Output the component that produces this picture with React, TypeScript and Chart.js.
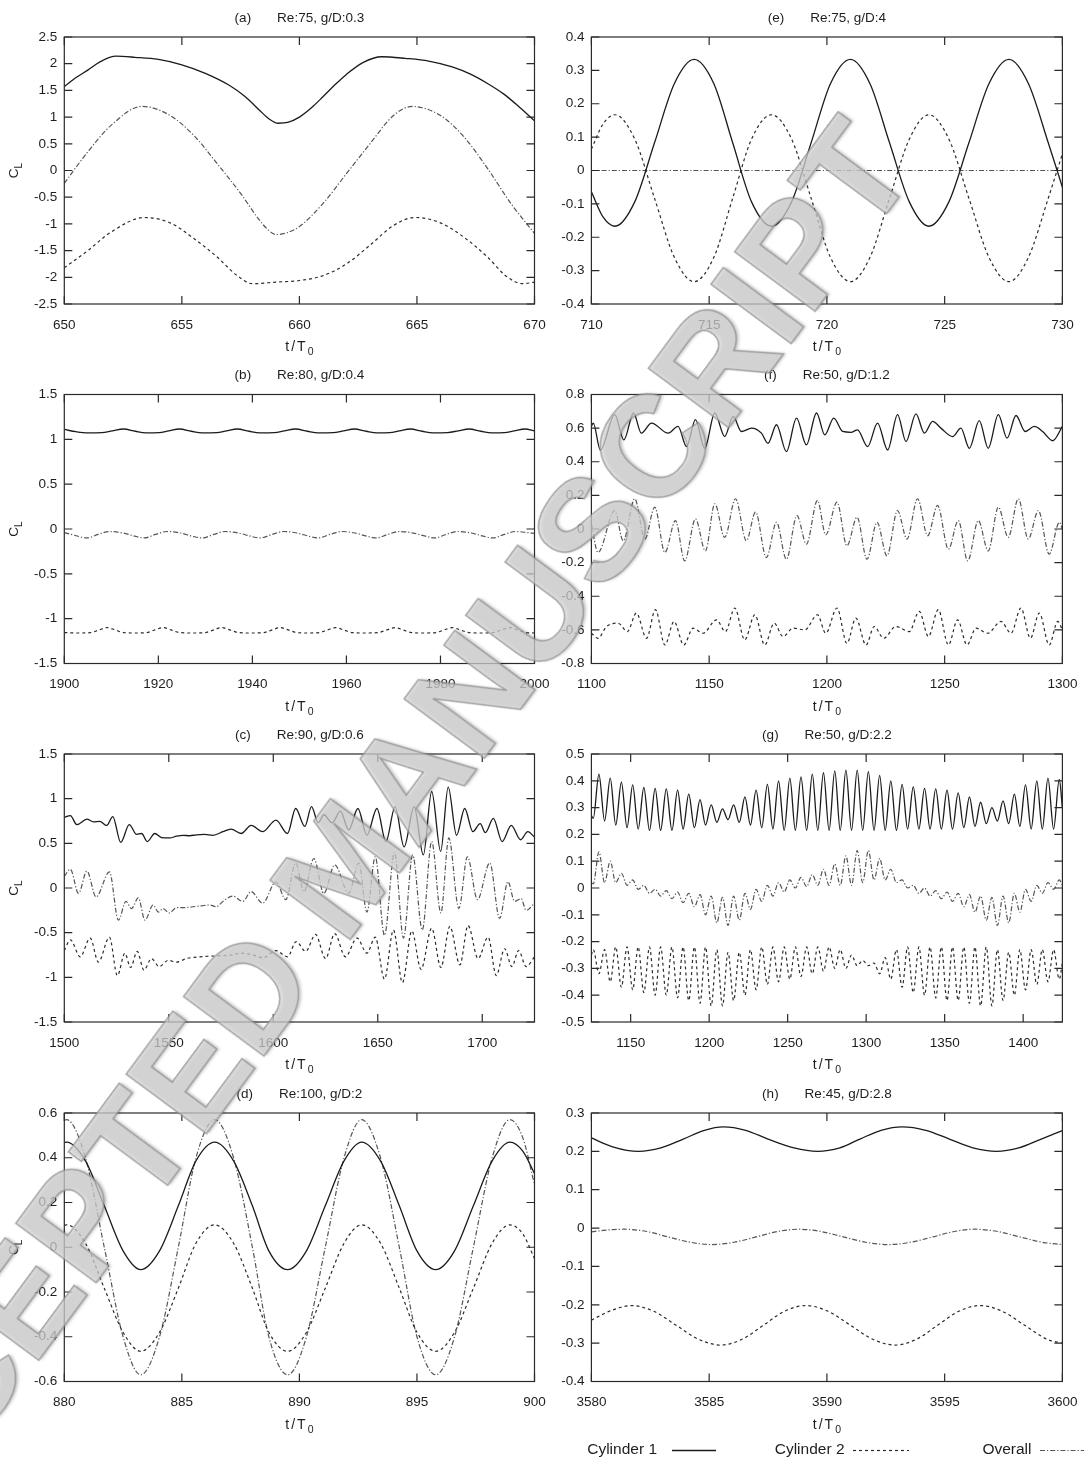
import React, { useEffect, useRef } from "react";
import { Chart, registerables } from "chart.js";
Chart.register(...registerables);

// ---------------- DATA ----------------
// (a) Re:75, g/D:0.3
const aT1 = [650, 650.5, 651, 651.5, 652.2, 653, 654, 655, 656, 657, 657.7, 658.3, 658.7, 659.1, 659.5, 660, 660.5, 661, 661.5, 662, 662.7, 663.5, 664.5, 665.5, 666.5, 667.3, 668, 668.7, 669.4, 670];
const aCyl1 = [1.57, 1.74, 1.88, 2.03, 2.14, 2.12, 2.08, 1.98, 1.82, 1.6, 1.38, 1.13, 0.97, 0.885, 0.9, 1.0, 1.17, 1.38, 1.6, 1.8, 2.02, 2.13, 2.1, 2.05, 1.94, 1.8, 1.63, 1.43, 1.17, 0.93];
const aT2 = [650, 651, 652, 653.4, 654.5, 655.5, 656.5, 657.3, 658, 659, 660, 661, 662, 663, 664, 664.9, 666, 667, 668, 668.8, 669.5, 670];
const aCyl2 = [-1.82, -1.5, -1.15, -0.88, -0.98, -1.27, -1.62, -1.95, -2.12, -2.09, -2.06, -1.97, -1.75, -1.4, -1.03, -0.88, -0.98, -1.25, -1.62, -1.98, -2.12, -2.09];
const aT0 = [650, 651, 652, 653.3, 654.5, 655.5, 656.5, 657.5, 658.3, 658.6, 659, 659.5, 660, 661, 662, 663, 664, 664.8, 666, 667, 668, 669, 670];
const aOverall = [-0.24, 0.35, 0.85, 1.2, 1.03, 0.66, 0.13, -0.43, -0.93, -1.08, -1.2, -1.16, -1.05, -0.62, -0.06, 0.5, 1.03, 1.2, 1.03, 0.63, 0.04, -0.62, -1.18];

// (b) Re:80, g/D:0.4
const bT1 = [1900, 1902.5, 1905, 1908, 1910.2, 1912.6, 1915.1, 1917.3, 1920.2, 1922.2, 1924.5, 1927, 1929.3, 1932.4, 1934.5, 1936.8, 1939.3, 1941.6, 1944.7, 1946.8, 1949.2, 1951.7, 1954, 1957.2, 1959.4, 1961.7, 1964.2, 1966.5, 1969.2, 1971.3, 1973.6, 1976.1, 1978.4, 1981.5, 1983.8, 1986.1, 1988.6, 1990.9, 1993.6, 1995.7, 1998, 2000];
const bCyl1 = [1.11, 1.085, 1.072, 1.075, 1.095, 1.115, 1.09, 1.072, 1.075, 1.095, 1.115, 1.09, 1.072, 1.075, 1.095, 1.115, 1.09, 1.072, 1.075, 1.095, 1.115, 1.09, 1.072, 1.075, 1.095, 1.115, 1.09, 1.072, 1.075, 1.095, 1.115, 1.09, 1.072, 1.075, 1.095, 1.115, 1.09, 1.072, 1.075, 1.095, 1.115, 1.095];
const bT0 = [1900, 1902.5, 1904.8, 1907.2, 1909.6, 1912.5, 1915, 1917, 1919.4, 1921.8, 1924.7, 1927.2, 1929.3, 1931.8, 1934.2, 1937.1, 1939.6, 1941.7, 1944.2, 1946.6, 1949.5, 1952, 1954, 1956.5, 1959, 1961.8, 1964.3, 1966.3, 1968.8, 1971.3, 1974.2, 1976.8, 1978.8, 1981.2, 1983.7, 1986.6, 1989.1, 1991.2, 1993.6, 1996, 1998.5, 2000];
const bOverall = [-0.04, -0.075, -0.1, -0.06, -0.028, -0.045, -0.08, -0.1, -0.06, -0.028, -0.045, -0.08, -0.1, -0.06, -0.028, -0.045, -0.08, -0.1, -0.06, -0.028, -0.045, -0.08, -0.1, -0.06, -0.028, -0.045, -0.08, -0.1, -0.06, -0.028, -0.045, -0.08, -0.1, -0.06, -0.028, -0.045, -0.08, -0.1, -0.06, -0.028, -0.04, -0.05];
const bT2 = [1900, 1903, 1905.6, 1907.4, 1909.1, 1910.8, 1912.6, 1915.2, 1917.5, 1919.3, 1921, 1922.7, 1924.5, 1927.3, 1930, 1931.8, 1933.5, 1935.2, 1937, 1939.7, 1942.4, 1944.2, 1945.9, 1947.6, 1949.4, 1951.8, 1954.2, 1956, 1957.7, 1959.4, 1961.2, 1964, 1966.8, 1968.6, 1970.3, 1972, 1973.8, 1976.4, 1979, 1980.8, 1982.5, 1984.2, 1986, 1988.6, 1991.2, 1993, 1994.7, 1996.4, 1998.2, 2000];
const bCyl2 = [-1.155, -1.16, -1.155, -1.125, -1.1, -1.125, -1.155, -1.16, -1.155, -1.125, -1.1, -1.125, -1.155, -1.16, -1.155, -1.125, -1.1, -1.125, -1.155, -1.16, -1.155, -1.125, -1.1, -1.125, -1.155, -1.16, -1.155, -1.125, -1.1, -1.125, -1.155, -1.16, -1.155, -1.125, -1.1, -1.125, -1.155, -1.16, -1.155, -1.125, -1.1, -1.125, -1.155, -1.16, -1.155, -1.125, -1.1, -1.125, -1.155, -1.16];

// (c) Re:90, g/D:0.6
const cT1 = [1500, 1502.9, 1506, 1510.8, 1514, 1517, 1520.3, 1523.2, 1527, 1531.1, 1534.6, 1537, 1539.7, 1543.3, 1546.5, 1550.5, 1553.7, 1556.8, 1560, 1563.2, 1567.1, 1571.1, 1575.9, 1579.8, 1584.6, 1589.4, 1594.9, 1601.3, 1606.8, 1610.7, 1615.1, 1618.3, 1621.5, 1624.2, 1628.2, 1632.1, 1636.1, 1640.5, 1644.8, 1649.6, 1653.9, 1658.3, 1662.6, 1667.4, 1671.8, 1675.8, 1680.1, 1683.7, 1687.7, 1691.6, 1695.5, 1699, 1701.5, 1705.3, 1709.5, 1713.9, 1718.3, 1721.8, 1725];
const cCyl1 = [0.79, 0.81, 0.71, 0.77, 0.74, 0.745, 0.7, 0.8, 0.51, 0.71, 0.6, 0.61, 0.52, 0.61, 0.565, 0.56, 0.58, 0.59, 0.585, 0.595, 0.6, 0.59, 0.63, 0.66, 0.61, 0.7, 0.63, 0.76, 0.61, 0.89, 0.69, 0.91, 0.73, 0.82, 0.73, 0.86, 0.65, 0.89, 0.59, 0.89, 0.52, 0.91, 0.46, 0.91, 0.37, 1.08, 0.41, 1.13, 0.59, 0.89, 0.63, 0.72, 0.62, 0.78, 0.52, 0.7, 0.54, 0.63, 0.57];
const cT0 = [1500, 1502.9, 1506.8, 1510.8, 1515.2, 1521.6, 1525.9, 1529.5, 1532.2, 1535.4, 1538.6, 1542.5, 1545, 1547.3, 1550.2, 1553.7, 1557.6, 1561.6, 1565.6, 1569.5, 1572.7, 1575.9, 1580.6, 1585.4, 1589.4, 1594.9, 1601.3, 1606, 1610.7, 1614.7, 1619.4, 1624.2, 1629.4, 1636.1, 1640.9, 1644.8, 1648.8, 1653.2, 1658, 1662.3, 1666.7, 1671.3, 1675.8, 1680.2, 1684, 1688.8, 1692.9, 1697.7, 1703.6, 1708.3, 1712.3, 1715.5, 1718.6, 1721, 1725];
const cOverall = [0.13, 0.21, -0.06, 0.19, -0.1, 0.18, -0.36, -0.15, -0.23, -0.11, -0.36, -0.19, -0.27, -0.23, -0.28, -0.22, -0.22, -0.21, -0.2, -0.19, -0.21, -0.15, -0.09, -0.15, -0.04, -0.17, 0.07, -0.13, 0.28, -0.04, 0.33, -0.06, 0.26, -0.06, 0.28, -0.27, 0.35, -0.53, 0.4, -0.56, 0.37, -0.47, 0.52, -0.28, 0.56, -0.23, 0.35, -0.13, 0.28, -0.34, 0.07, -0.15, -0.12, -0.25, -0.17];
const cT2 = [1500, 1502.9, 1507.6, 1512.4, 1516.3, 1521.6, 1525.4, 1529, 1531.7, 1534.9, 1538.1, 1541.7, 1545.4, 1549.7, 1553.7, 1558.4, 1564.8, 1572.7, 1579.8, 1584.6, 1590.2, 1595.2, 1601.3, 1606.8, 1611, 1615.5, 1620.2, 1625, 1629.4, 1634.5, 1640.1, 1644.8, 1648.8, 1653.2, 1657.5, 1661.8, 1666.3, 1670.7, 1675.8, 1680.2, 1684.5, 1689.3, 1693.2, 1698, 1702.8, 1706.7, 1710.7, 1714.2, 1717.4, 1721, 1725];
const cCyl2 = [-0.7, -0.58, -0.77, -0.56, -0.83, -0.55, -0.98, -0.73, -0.89, -0.71, -0.92, -0.79, -0.88, -0.81, -0.83, -0.79, -0.77, -0.76, -0.75, -0.73, -0.75, -0.78, -0.7, -0.77, -0.6, -0.71, -0.52, -0.79, -0.51, -0.77, -0.56, -0.73, -0.55, -1.02, -0.47, -1.06, -0.48, -0.91, -0.45, -0.89, -0.43, -0.86, -0.42, -0.79, -0.55, -0.98, -0.68, -0.88, -0.7, -0.88, -0.77];

// (d) Re:100, g/D:2
const dT = [880, 880.1, 880.9, 881.7, 882.5, 883.25, 884.05, 884.85, 885.6, 886.4, 887.2, 888.0, 888.7, 889.5, 890.3, 891.1, 891.9, 892.65, 893.45, 894.25, 895.0, 895.8, 896.6, 897.4, 898.2, 898.95, 899.5, 900];
const dCyl1 = [0.468, 0.47, 0.386, 0.185, -0.016, -0.1, -0.016, 0.185, 0.386, 0.47, 0.386, 0.185, -0.016, -0.1, -0.016, 0.185, 0.386, 0.47, 0.386, 0.185, -0.016, -0.1, -0.016, 0.185, 0.386, 0.47, 0.43, 0.33];
const dCyl2 = [0.098, 0.1, 0.018, -0.183, -0.38, -0.465, -0.38, -0.183, 0.018, 0.1, 0.018, -0.183, -0.38, -0.465, -0.38, -0.183, 0.018, 0.1, 0.018, -0.183, -0.38, -0.465, -0.38, -0.183, 0.018, 0.1, 0.06, -0.05];
const dOverall = [0.568, 0.57, 0.4, 0.0, -0.4, -0.57, -0.4, 0.0, 0.4, 0.57, 0.4, 0.0, -0.4, -0.57, -0.4, 0.0, 0.4, 0.57, 0.4, 0.0, -0.4, -0.57, -0.4, 0.0, 0.4, 0.57, 0.49, 0.28];

// (e) Re:75, g/D:4
const eT = [710, 710.5, 711.0, 711.84, 712.68, 713.52, 714.36, 715.2, 716.0, 716.8, 717.65, 718.5, 719.33, 720.15, 721.0, 721.83, 722.66, 723.5, 724.33, 725.18, 726.03, 726.88, 727.73, 728.56, 729.4, 730];
const eCyl1 = [-0.064, -0.14, -0.167, -0.094, 0.083, 0.26, 0.333, 0.26, 0.083, -0.094, -0.167, -0.094, 0.083, 0.26, 0.333, 0.26, 0.083, -0.094, -0.167, -0.094, 0.083, 0.26, 0.333, 0.26, 0.083, -0.05];
const eCyl2 = [0.064, 0.14, 0.167, 0.094, -0.083, -0.26, -0.333, -0.26, -0.083, 0.094, 0.167, 0.094, -0.083, -0.26, -0.333, -0.26, -0.083, 0.094, 0.167, 0.094, -0.083, -0.26, -0.333, -0.26, -0.083, 0.05];
const eT0 = [710, 715, 720, 725, 730];
const eOverall = [0, 0, 0, 0, 0];

// (f) Re:50, g/D:1.2
const fT1 = [1100, 1100.8, 1103.8, 1109.9, 1113.8, 1117.9, 1121.2, 1125.5, 1132.6, 1136.8, 1140.4, 1144.2, 1148.1, 1152.4, 1156.6, 1160.2, 1163.7, 1168, 1172.2, 1175, 1178.6, 1182.8, 1187.1, 1191.3, 1195.6, 1199.1, 1202.9, 1206.7, 1210.2, 1213, 1217.3, 1221.5, 1225.8, 1230, 1233.6, 1237.8, 1241.4, 1244.9, 1248.4, 1253.4, 1256.9, 1260.5, 1264.7, 1268.5, 1272.8, 1276.5, 1280.3, 1284.2, 1288.1, 1291.6, 1295.9, 1300];
const fCyl1 = [0.61, 0.63, 0.47, 0.68, 0.53, 0.69, 0.57, 0.63, 0.57, 0.61, 0.49, 0.65, 0.48, 0.69, 0.55, 0.67, 0.58, 0.6, 0.57, 0.51, 0.62, 0.46, 0.66, 0.5, 0.69, 0.56, 0.66, 0.58, 0.575, 0.59, 0.49, 0.63, 0.47, 0.68, 0.52, 0.685, 0.57, 0.64, 0.6, 0.55, 0.6, 0.48, 0.645, 0.48, 0.68, 0.54, 0.675, 0.58, 0.61, 0.58, 0.525, 0.61];
const fT0 = [1100, 1102.8, 1109.9, 1113.5, 1118.4, 1122.7, 1126.9, 1131.2, 1135.7, 1139.6, 1144.2, 1148.4, 1152.4, 1156.6, 1161.2, 1165.8, 1169.7, 1174.3, 1178.6, 1182.8, 1187.3, 1191.3, 1196, 1199.5, 1204.3, 1208.5, 1212.8, 1217, 1221.3, 1225.5, 1230, 1234, 1238.5, 1242.8, 1247, 1251.6, 1255.8, 1259.8, 1264.3, 1268.5, 1272.8, 1277, 1281.3, 1285.5, 1289.8, 1294.4, 1298.7, 1300];
const fOverall = [0.03, -0.14, 0.11, -0.07, 0.18, -0.06, 0.13, -0.14, 0.05, -0.19, 0.06, -0.13, 0.15, -0.05, 0.18, -0.07, 0.1, -0.17, 0.04, -0.18, 0.08, -0.09, 0.17, -0.035, 0.16, -0.1, 0.07, -0.18, 0.04, -0.16, 0.11, -0.06, 0.18, -0.04, 0.14, -0.12, 0.05, -0.19, 0.05, -0.13, 0.13, -0.05, 0.18, -0.06, 0.11, -0.15, 0.04, 0.0];
const fT2 = [1100, 1102.8, 1106.4, 1111.3, 1115.3, 1119.1, 1123.4, 1127.2, 1131.2, 1135.1, 1139.2, 1143.2, 1147.4, 1153.1, 1156.9, 1160.9, 1165.1, 1169.4, 1173.6, 1177.6, 1181.4, 1185.6, 1190.6, 1196, 1199.5, 1204.3, 1208.5, 1212.3, 1216.6, 1220.1, 1224.1, 1229.3, 1235, 1239.2, 1243.1, 1247.3, 1251.6, 1255.5, 1259.5, 1263.3, 1268.3, 1273.9, 1278.2, 1282.4, 1286.4, 1290.2, 1294.4, 1298, 1300];
const fCyl2 = [-0.62, -0.65, -0.58, -0.56, -0.61, -0.5, -0.65, -0.48, -0.69, -0.55, -0.69, -0.59, -0.62, -0.54, -0.61, -0.47, -0.66, -0.51, -0.69, -0.56, -0.64, -0.59, -0.6, -0.51, -0.62, -0.47, -0.68, -0.53, -0.69, -0.58, -0.65, -0.58, -0.61, -0.49, -0.64, -0.48, -0.69, -0.54, -0.69, -0.59, -0.62, -0.55, -0.62, -0.47, -0.65, -0.5, -0.69, -0.55, -0.6];

// (g) Re:50, g/D:2.2  (times of successive crests / troughs)
const gT = [1125, 1126.2,
  1129.8, 1133.4, 1137.0, 1140.5, 1144.1, 1147.7, 1151.3, 1154.8, 1158.4, 1162.0,
  1165.6, 1169.1, 1172.7, 1176.3, 1179.9, 1183.4, 1187.0, 1190.6, 1194.2, 1197.7,
  1201.3, 1204.9, 1208.5, 1212.0, 1215.6, 1219.2, 1222.8, 1226.3, 1229.9, 1233.5,
  1237.1, 1240.6, 1244.2, 1247.8, 1251.4, 1254.9, 1258.5, 1262.1, 1265.7, 1269.2,
  1272.8, 1276.4, 1280.0, 1283.5, 1287.1, 1290.7, 1294.3, 1297.8, 1301.4, 1305.0,
  1308.6, 1312.1, 1315.7, 1319.3, 1322.9, 1326.4, 1330.0, 1333.6, 1337.2, 1340.7,
  1344.3, 1347.9, 1351.5, 1355.0, 1358.6, 1362.2, 1365.8, 1369.3, 1372.9, 1376.5,
  1380.1, 1383.6, 1387.2, 1390.8, 1394.4, 1397.9, 1401.5, 1405.1, 1408.7, 1412.2,
  1415.8, 1419.4, 1423.0, 1425];
const gCyl1 = [0.27, 0.26,
  0.425, 0.25, 0.41, 0.235, 0.395, 0.225, 0.385, 0.22, 0.375, 0.215,
  0.372, 0.215, 0.37, 0.215, 0.365, 0.22, 0.35, 0.225, 0.33, 0.235,
  0.31, 0.245, 0.295, 0.255, 0.31, 0.245, 0.34, 0.235, 0.365, 0.225,
  0.387, 0.22, 0.4, 0.215, 0.41, 0.215, 0.415, 0.215, 0.425, 0.215,
  0.43, 0.215, 0.437, 0.215, 0.44, 0.215, 0.44, 0.215, 0.434, 0.215,
  0.42, 0.215, 0.4, 0.215, 0.387, 0.22, 0.377, 0.22, 0.372, 0.22,
  0.37, 0.22, 0.365, 0.22, 0.355, 0.225, 0.34, 0.23, 0.32, 0.24,
  0.3, 0.25, 0.325, 0.24, 0.35, 0.23, 0.385, 0.22, 0.4, 0.22,
  0.41, 0.22, 0.405, 0.3];
const gOverall = [0.02, 0.015,
  0.135, 0.02, 0.1, 0.02, 0.055, 0.01, 0.03, -0.005, 0.01, -0.02,
  -0.005, -0.03, -0.01, -0.04, -0.015, -0.055, -0.02, -0.07, -0.025, -0.1,
  -0.03, -0.13, -0.035, -0.14, -0.03, -0.12, -0.02, -0.08, -0.005, -0.05,
  0.01, -0.03, 0.02, -0.015, 0.03, 0.0, 0.04, 0.005, 0.05, 0.01,
  0.07, 0.01, 0.09, 0.01, 0.12, 0.01, 0.14, 0.02, 0.14, 0.03,
  0.11, 0.03, 0.07, 0.02, 0.03, 0.0, 0.01, -0.02, 0.0, -0.03,
  -0.01, -0.04, -0.015, -0.05, -0.02, -0.07, -0.025, -0.09, -0.03, -0.12,
  -0.035, -0.14, -0.03, -0.13, -0.02, -0.09, -0.005, -0.05, 0.01, -0.02,
  0.02, -0.005, 0.03, 0.01];
const gCyl2 = [-0.25, -0.23,
  -0.32, -0.23, -0.35, -0.22, -0.37, -0.22, -0.38, -0.22, -0.39, -0.22,
  -0.4, -0.22, -0.4, -0.22, -0.41, -0.22, -0.42, -0.22, -0.43, -0.22,
  -0.44, -0.23, -0.44, -0.24, -0.42, -0.24, -0.4, -0.23, -0.38, -0.22,
  -0.36, -0.22, -0.35, -0.22, -0.34, -0.22, -0.33, -0.22, -0.32, -0.22,
  -0.31, -0.22, -0.3, -0.23, -0.3, -0.25, -0.29, -0.27, -0.29, -0.28,
  -0.32, -0.26, -0.34, -0.23, -0.37, -0.22, -0.39, -0.22, -0.4, -0.22,
  -0.41, -0.22, -0.42, -0.22, -0.42, -0.22, -0.43, -0.22, -0.44, -0.22,
  -0.44, -0.23, -0.42, -0.24, -0.4, -0.23, -0.38, -0.23, -0.36, -0.23,
  -0.35, -0.23, -0.34, -0.28];

// (h) Re:45, g/D:2.8
const hT1 = [3580, 3580.9, 3582.0, 3582.95, 3583.9, 3584.8, 3585.6, 3586.55, 3587.5, 3588.6, 3589.6, 3590.55, 3591.4, 3592.3, 3593.2, 3594.2, 3595.2, 3596.2, 3597.2, 3598.15, 3599.1, 3600];
const hCyl1 = [0.235, 0.212, 0.2, 0.209, 0.232, 0.255, 0.264, 0.255, 0.232, 0.209, 0.2, 0.209, 0.232, 0.255, 0.264, 0.255, 0.232, 0.209, 0.2, 0.209, 0.232, 0.254];
const hT0 = [3580, 3580.5, 3581.4, 3582.35, 3583.25, 3584.2, 3585.1, 3586.05, 3587, 3587.9, 3588.8, 3589.75, 3590.7, 3591.65, 3592.6, 3593.55, 3594.5, 3595.4, 3596.3, 3597.25, 3598.2, 3599.15, 3600];
const hOverall = [-0.01, -0.006, -0.003, -0.009, -0.023, -0.037, -0.043, -0.037, -0.023, -0.009, -0.003, -0.009, -0.023, -0.037, -0.043, -0.037, -0.023, -0.009, -0.003, -0.009, -0.023, -0.037, -0.043];
const hT2 = [3580, 3580.8, 3581.7, 3582.65, 3583.6, 3584.55, 3585.5, 3586.4, 3587.3, 3588.2, 3589.1, 3590.05, 3591.0, 3591.95, 3592.9, 3593.8, 3594.7, 3595.6, 3596.5, 3597.45, 3598.4, 3599.35, 3600];
const hCyl2 = [-0.24, -0.216, -0.202, -0.217, -0.2535, -0.29, -0.305, -0.29, -0.2535, -0.217, -0.202, -0.217, -0.2535, -0.29, -0.305, -0.29, -0.2535, -0.217, -0.202, -0.217, -0.2535, -0.29, -0.3];

// axis ticks
const aXTicks = [650, 655, 660, 665, 670];
const aYTicks = [2.5, 2, 1.5, 1, 0.5, 0, -0.5, -1, -1.5, -2, -2.5];
const bXTicks = [1900, 1920, 1940, 1960, 1980, 2000];
const bYTicks = [1.5, 1, 0.5, 0, -0.5, -1, -1.5];
const cXTicks = [1500, 1550, 1600, 1650, 1700];
const cYTicks = [1.5, 1, 0.5, 0, -0.5, -1, -1.5];
const dXTicks = [880, 885, 890, 895, 900];
const dYTicks = [0.6, 0.4, 0.2, 0, -0.2, -0.4, -0.6];
const eXTicks = [710, 715, 720, 725, 730];
const eYTicks = [0.4, 0.3, 0.2, 0.1, 0, -0.1, -0.2, -0.3, -0.4];
const fXTicks = [1100, 1150, 1200, 1250, 1300];
const fYTicks = [0.8, 0.6, 0.4, 0.2, 0, -0.2, -0.4, -0.6, -0.8];
const gXTicks = [1150, 1200, 1250, 1300, 1350, 1400];
const gYTicks = [0.5, 0.4, 0.3, 0.2, 0.1, 0, -0.1, -0.2, -0.3, -0.4, -0.5];
const hXTicks = [3580, 3585, 3590, 3595, 3600];
const hYTicks = [0.3, 0.2, 0.1, 0, -0.1, -0.2, -0.3, -0.4];

const legendLabels = ["Cylinder 1", "Cylinder 2", "Overall"];
const watermarkText = "ACCEPTED MANUSCRIPT";

// ---------------- STYLE / LAYOUT ----------------
const FONT = '"Liberation Sans", Arial, Helvetica, sans-serif';
type StyleKey = "cyl1" | "cyl2" | "overall";
const STYLES: Record<StyleKey, { color: string; dash: number[]; width: number }> = {
  cyl1: { color: "#1b1b1b", dash: [], width: 1.3 },
  cyl2: { color: "#2b2b2b", dash: [3, 3], width: 1.2 },
  overall: { color: "#555555", dash: [5, 2, 1.2, 2], width: 1.2 },
};

interface Series { t: number[]; v: number[]; style: StyleKey }
interface PanelDef {
  key: string; label: string; title: string; col: number; row: number;
  x: [number, number]; y: [number, number]; xTicks: number[]; yTicks: number[];
  series: Series[]; legend?: boolean;
}

const PANELS: PanelDef[] = [
  { key: "a", label: "(a)", title: "Re:75, g/D:0.3", col: 0, row: 0, x: [650, 670], y: [-2.5, 2.5], xTicks: aXTicks, yTicks: aYTicks,
    series: [{ t: aT1, v: aCyl1, style: "cyl1" }, { t: aT2, v: aCyl2, style: "cyl2" }, { t: aT0, v: aOverall, style: "overall" }] },
  { key: "b", label: "(b)", title: "Re:80, g/D:0.4", col: 0, row: 1, x: [1900, 2000], y: [-1.5, 1.5], xTicks: bXTicks, yTicks: bYTicks,
    series: [{ t: bT1, v: bCyl1, style: "cyl1" }, { t: bT2, v: bCyl2, style: "cyl2" }, { t: bT0, v: bOverall, style: "overall" }] },
  { key: "c", label: "(c)", title: "Re:90, g/D:0.6", col: 0, row: 2, x: [1500, 1725], y: [-1.5, 1.5], xTicks: cXTicks, yTicks: cYTicks,
    series: [{ t: cT1, v: cCyl1, style: "cyl1" }, { t: cT2, v: cCyl2, style: "cyl2" }, { t: cT0, v: cOverall, style: "overall" }] },
  { key: "d", label: "(d)", title: "Re:100, g/D:2", col: 0, row: 3, x: [880, 900], y: [-0.6, 0.6], xTicks: dXTicks, yTicks: dYTicks,
    series: [{ t: dT, v: dCyl1, style: "cyl1" }, { t: dT, v: dCyl2, style: "cyl2" }, { t: dT, v: dOverall, style: "overall" }] },
  { key: "e", label: "(e)", title: "Re:75, g/D:4", col: 1, row: 0, x: [710, 730], y: [-0.4, 0.4], xTicks: eXTicks, yTicks: eYTicks,
    series: [{ t: eT, v: eCyl1, style: "cyl1" }, { t: eT, v: eCyl2, style: "cyl2" }, { t: eT0, v: eOverall, style: "overall" }] },
  { key: "f", label: "(f)", title: "Re:50, g/D:1.2", col: 1, row: 1, x: [1100, 1300], y: [-0.8, 0.8], xTicks: fXTicks, yTicks: fYTicks,
    series: [{ t: fT1, v: fCyl1, style: "cyl1" }, { t: fT2, v: fCyl2, style: "cyl2" }, { t: fT0, v: fOverall, style: "overall" }] },
  { key: "g", label: "(g)", title: "Re:50, g/D:2.2", col: 1, row: 2, x: [1125, 1425], y: [-0.5, 0.5], xTicks: gXTicks, yTicks: gYTicks,
    series: [{ t: gT, v: gCyl1, style: "cyl1" }, { t: gT, v: gCyl2, style: "cyl2" }, { t: gT, v: gOverall, style: "overall" }] },
  { key: "h", label: "(h)", title: "Re:45, g/D:2.8", col: 1, row: 3, x: [3580, 3600], y: [-0.4, 0.3], xTicks: hXTicks, yTicks: hYTicks,
    series: [{ t: hT1, v: hCyl1, style: "cyl1" }, { t: hT2, v: hCyl2, style: "cyl2" }, { t: hT0, v: hOverall, style: "overall" }], legend: true },
];

const COLS = [
  { left: 0, width: 565, areaL: 64.3, areaR: 534.5 },
  { left: 545, width: 539, areaL: 591.4, areaR: 1062.4 },
];
const ROWS = [
  { top: 0, height: 360, areaT: 37, areaB: 304 },
  { top: 360, height: 360, areaT: 394.5, areaB: 663.5 },
  { top: 720, height: 360, areaT: 754, areaB: 1022 },
  { top: 1080, height: 381, areaT: 1113, areaB: 1381.5 },
];

function strokeSample(ctx: CanvasRenderingContext2D, x1: number, x2: number, y: number, s: StyleKey) {
  const st = STYLES[s];
  ctx.save();
  ctx.strokeStyle = st.color;
  ctx.lineWidth = st.width;
  ctx.setLineDash(st.dash);
  ctx.beginPath();
  ctx.moveTo(x1, y);
  ctx.lineTo(x2, y);
  ctx.stroke();
  ctx.restore();
}

// draws a string char by char with extra spacing, returns the end x
function spacedText(ctx: CanvasRenderingContext2D, s: string, x: number, y: number, sp: number, draw: boolean) {
  let cx = x;
  for (const ch of s) {
    if (draw) ctx.fillText(ch, cx, y);
    cx += ctx.measureText(ch).width + sp;
  }
  return cx - sp;
}

function makeDecor(p: PanelDef) {
  const col = COLS[p.col];
  const row = ROWS[p.row];
  return {
    id: "decor_" + p.key,
    afterDraw(chart: any) {
      const ctx: CanvasRenderingContext2D = chart.ctx;
      const ca = chart.chartArea;
      const xs = chart.scales.x;
      const ys = chart.scales.y;
      ctx.save();
      ctx.setLineDash([]);
      ctx.strokeStyle = "#2a2a2a";
      ctx.lineWidth = 1.2;
      ctx.strokeRect(ca.left, ca.top, ca.right - ca.left, ca.bottom - ca.top);
      const TL = 8;
      ctx.beginPath();
      p.xTicks.forEach((t) => {
        const x = xs.getPixelForValue(t);
        ctx.moveTo(x, ca.bottom); ctx.lineTo(x, ca.bottom - TL);
        ctx.moveTo(x, ca.top); ctx.lineTo(x, ca.top + TL);
      });
      p.yTicks.forEach((v) => {
        const y = ys.getPixelForValue(v);
        ctx.moveTo(ca.left, y); ctx.lineTo(ca.left + TL, y);
        ctx.moveTo(ca.right, y); ctx.lineTo(ca.right - TL, y);
      });
      ctx.stroke();

      ctx.fillStyle = "#1e1e1e";
      ctx.font = `13.5px ${FONT}`;
      ctx.textAlign = "center";
      ctx.textBaseline = "middle";
      p.xTicks.forEach((t) => ctx.fillText(String(t), xs.getPixelForValue(t), ca.bottom + 21));
      ctx.textAlign = "right";
      p.yTicks.forEach((v) => ctx.fillText(String(v), ca.left - 7, ys.getPixelForValue(v)));

      // panel title
      const cx = (ca.left + ca.right) / 2;
      const w1 = ctx.measureText(p.label).width;
      const w2 = ctx.measureText(p.title).width;
      const gap = 26;
      const start = cx - (w1 + gap + w2) / 2;
      ctx.textAlign = "left";
      ctx.fillText(p.label, start, ca.top - 19);
      ctx.fillText(p.title, start + w1 + gap, ca.top - 19);

      // x-axis title t/T0
      ctx.textBaseline = "alphabetic";
      ctx.font = `14px ${FONT}`;
      const SP = 2;
      const wa = spacedText(ctx, "t/T", 0, 0, SP, false) - 0;
      ctx.font = `10.5px ${FONT}`;
      const wb = ctx.measureText("0").width;
      const sx = cx - (wa + SP + wb) / 2;
      const base = ca.bottom + 47;
      ctx.font = `14px ${FONT}`;
      spacedText(ctx, "t/T", sx, base, SP, true);
      ctx.font = `10.5px ${FONT}`;
      ctx.fillText("0", sx + wa + SP, base + 4);

      // y-axis title C_L (left column only)
      if (p.col === 0) {
        ctx.save();
        ctx.translate(18, (ca.top + ca.bottom) / 2);
        ctx.rotate(-Math.PI / 2);
        ctx.font = `13.5px ${FONT}`;
        const wc = ctx.measureText("C").width;
        ctx.font = `10px ${FONT}`;
        const wl = ctx.measureText("L").width;
        const s0 = -(wc + wl) / 2;
        ctx.font = `13.5px ${FONT}`;
        ctx.fillText("C", s0, 0);
        ctx.font = `10px ${FONT}`;
        ctx.fillText("L", s0 + wc, 3.5);
        ctx.restore();
      }

      // legend (bottom right)
      if (p.legend) {
        const ly = 1450 - row.top;
        const items: [string, number, number, number, StyleKey][] = [
          [legendLabels[0], 657, 672, 716, "cyl1"],
          [legendLabels[1], 844.5, 853, 909, "cyl2"],
          [legendLabels[2], 1031.5, 1040, 1084, "overall"],
        ];
        ctx.font = `15.5px ${FONT}`;
        ctx.textAlign = "right";
        ctx.textBaseline = "middle";
        items.forEach(([txt, tx, x1, x2, s]) => {
          ctx.fillText(txt, tx - col.left, ly);
          strokeSample(ctx, x1 - col.left, x2 - col.left, ly + 0.5, s);
        });
      }
      ctx.restore();
    },
  };
}

function buildConfig(p: PanelDef): any {
  const col = COLS[p.col];
  const row = ROWS[p.row];
  return {
    type: "line",
    data: {
      datasets: p.series.map((s) => ({
        data: s.t.map((t, i) => ({ x: t, y: s.v[i] })),
        borderColor: STYLES[s.style].color,
        borderWidth: STYLES[s.style].width,
        borderDash: STYLES[s.style].dash,
        pointRadius: 0,
        fill: false,
        cubicInterpolationMode: "monotone",
      })),
    },
    options: {
      animation: false,
      responsive: false,
      devicePixelRatio: 1,
      events: [],
      layout: {
        padding: {
          left: col.areaL - col.left,
          right: col.left + col.width - col.areaR,
          top: row.areaT - row.top,
          bottom: row.top + row.height - row.areaB,
        },
      },
      plugins: { legend: { display: false }, tooltip: { enabled: false }, title: { display: false } },
      scales: {
        x: { type: "linear", min: p.x[0], max: p.x[1], display: false },
        y: { type: "linear", min: p.y[0], max: p.y[1], display: false },
      },
    },
    plugins: [makeDecor(p)],
  };
}

function Panel({ p }: { p: PanelDef }) {
  const ref = useRef<HTMLCanvasElement | null>(null);
  const col = COLS[p.col];
  const row = ROWS[p.row];
  useEffect(() => {
    if (!ref.current) return;
    const chart = new Chart(ref.current, buildConfig(p));
    return () => chart.destroy();
  }, [p]);
  return (
    <canvas
      ref={ref}
      width={col.width}
      height={row.height}
      style={{ position: "absolute", left: col.left, top: row.top, width: col.width, height: row.height }}
    />
  );
}

export default function App() {
  return (
    <div style={{ position: "absolute", left: 0, top: 0, width: 1084, height: 1461, background: "#ffffff", overflow: "hidden" }}>
      {PANELS.map((p) => (
        <Panel key={p.key} p={p} />
      ))}
      <div
        style={{
          position: "absolute",
          left: 343,
          top: 866,
          transform: "translate(-50%, -50%) rotate(-53.5deg)",
          whiteSpace: "nowrap",
          fontFamily: FONT,
          fontWeight: 700,
          fontSize: 145,
          lineHeight: 1,
          color: "rgba(214,214,214,0.72)",
          WebkitTextStroke: "1.5px rgba(140,140,140,0.75)",
          textShadow: "2px 2px 3px rgba(0,0,0,0.22)",
          pointerEvents: "none",
          userSelect: "none",
        }}
      >
        {watermarkText}
      </div>
    </div>
  );
}
